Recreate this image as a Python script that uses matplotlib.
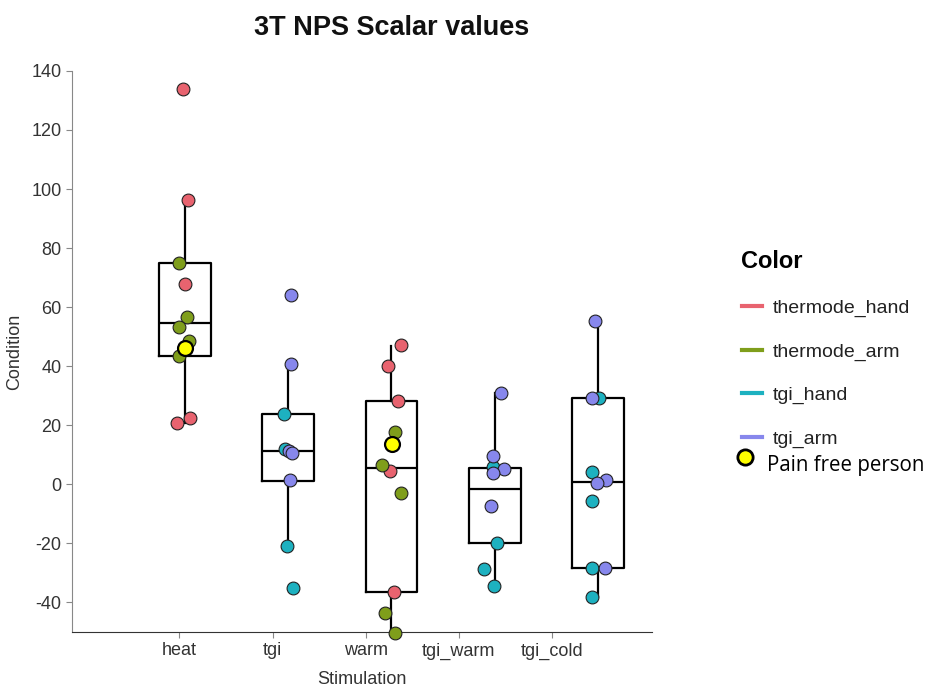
import numpy as np
import matplotlib.pyplot as plt
from matplotlib.lines import Line2D

plt.rcParams['font.family'] = 'Liberation Sans'
plt.rcParams['axes.unicode_minus'] = False

# categories and groups
stims = ['heat', 'tgi', 'warm', 'tgi_warm', 'tgi_cold']
groups = ['thermode_hand', 'thermode_arm', 'tgi_hand', 'tgi_arm']
colors = {'thermode_hand': '#E8636F', 'thermode_arm': '#7F9E1B',
          'tgi_hand': '#1DB1C0', 'tgi_arm': '#8787EC'}

# box summaries: whislo, q1, med, q3, whishi
whislo = [20.7, -21.0, -50.0, -34.5, -38.0]
q1 = [43.4, 1.0, -36.6, -19.7, -28.5]
med = [54.6, 11.2, 5.4, -1.7, 0.7]
q3 = [75.0, 23.7, 28.1, 5.4, 29.2]
whishi = [96.3, 40.7, 46.8, 30.8, 55.3]

# points: (stimulation index, group, value, jitter)
pt_stim = [0, 0, 0, 0, 0, 0, 0, 0, 0, 0,
           1, 1, 1, 1, 1, 1, 1, 1, 1,
           2, 2, 2, 2, 2, 2, 2, 2, 2, 2,
           3, 3, 3, 3, 3, 3, 3, 3, 3,
           4, 4, 4, 4, 4, 4, 4, 4, 4, 4]
pt_group = ['thermode_hand', 'thermode_hand', 'thermode_arm', 'thermode_hand', 'thermode_arm',
            'thermode_arm', 'thermode_arm', 'thermode_arm', 'thermode_hand', 'thermode_hand',
            'tgi_arm', 'tgi_arm', 'tgi_hand', 'tgi_hand', 'tgi_arm', 'tgi_arm', 'tgi_arm',
            'tgi_hand', 'tgi_hand',
            'thermode_hand', 'thermode_hand', 'thermode_hand', 'thermode_arm', 'thermode_arm',
            'thermode_hand', 'thermode_arm', 'thermode_hand', 'thermode_arm', 'thermode_arm',
            'tgi_arm', 'tgi_arm', 'tgi_hand', 'tgi_arm', 'tgi_arm', 'tgi_arm', 'tgi_hand',
            'tgi_hand', 'tgi_hand',
            'tgi_arm', 'tgi_hand', 'tgi_arm', 'tgi_hand', 'tgi_arm', 'tgi_arm', 'tgi_hand',
            'tgi_arm', 'tgi_hand', 'tgi_hand']
pt_value = [134.0, 96.3, 74.9, 68.0, 56.6, 53.2, 48.5, 43.4, 22.4, 20.7,
            64.1, 40.7, 23.7, 11.8, 11.2, 10.5, 1.4, -21.0, -35.0,
            47.1, 40.0, 28.1, 17.6, 6.4, 4.4, -3.0, -36.3, -43.7, -50.2,
            30.8, 9.5, 5.8, 5.1, 3.7, -7.5, -19.7, -28.8, -34.5,
            55.3, 29.2, 29.2, 4.1, 1.4, 0.4, -5.7, -28.5, -28.5, -38.0]
pt_jitter = [-0.02, 0.03, -0.05, 0.0, 0.02, -0.05, 0.04, -0.05, 0.05, -0.07,
             0.03, 0.03, -0.04, -0.03, 0.01, 0.04, 0.02, -0.01, 0.05,
             0.09, -0.03, 0.06, 0.03, -0.09, -0.01, 0.09, 0.02, -0.06, 0.03,
             0.06, -0.02, -0.02, 0.09, -0.02, -0.04, 0.02, -0.10, -0.01,
             -0.03, 0.01, -0.06, -0.06, 0.08, -0.01, -0.06, 0.07, -0.06, -0.06]

# pain free person
pf_stim = [0, 2]
pf_value = [46.1, 13.6]
pf_jitter = [0.0, 0.01]

fig = plt.figure(figsize=(9.31, 6.91), dpi=100)
ax = fig.add_axes([0.0773, 0.0854, 0.623, 0.812])

stats = [dict(whislo=a, q1=b, med=c, q3=d, whishi=e, fliers=[])
         for a, b, c, d, e in zip(whislo, q1, med, q3, whishi)]
ax.bxp(stats, positions=range(len(stims)), widths=0.5, showcaps=False,
       boxprops=dict(color='black', lw=1.6),
       medianprops=dict(color='black', lw=1.6),
       whiskerprops=dict(color='black', lw=1.6), manage_ticks=False)

pt_stim = np.array(pt_stim)
pt_value = np.array(pt_value)
pt_jitter = np.array(pt_jitter)
pt_group = np.array(pt_group)
for g in groups:
    m = pt_group == g
    ax.scatter(pt_stim[m] + pt_jitter[m], pt_value[m], s=85, color=colors[g],
               edgecolor='#222222', lw=0.8, zorder=3, clip_on=False)
ax.scatter(np.array(pf_stim) + np.array(pf_jitter), pf_value, s=115, color='#FFFF00',
           edgecolor='black', lw=1.6, zorder=4, clip_on=False)

ax.set_xlim(-1.09, 4.52)
ax.set_ylim(-50, 140)
ax.set_yticks(np.arange(-40, 141, 20))
ax.set_xticks(np.arange(len(stims)) * 0.9 - 0.05)
ax.set_xticklabels(stims)
ax.tick_params(labelsize=13, colors='#888888', labelcolor='#333333', length=4)
for s in ['top', 'right']:
    ax.spines[s].set_visible(False)
ax.spines['left'].set_color('#888888')
ax.spines['bottom'].set_color('#333333')
ax.set_xlabel('Stimulation', fontsize=13, color='#333333', labelpad=8)
ax.set_ylabel('Condition', fontsize=13, color='#333333', labelpad=6)

fig.text(392 / 931, 1 - 28 / 691, '3T NPS Scalar values', fontsize=19.5, fontweight='bold',
         ha='center', va='center', color='#111111')

handles = [Line2D([], [], color=colors[g], lw=3) for g in groups]
leg = fig.legend(handles, groups, loc='upper left', bbox_to_anchor=(724 / 931, 1 - 233 / 691),
                 frameon=False, fontsize=14, title='Color', handlelength=1.05,
                 labelspacing=1.33, handletextpad=0.57,
                 title_fontproperties=dict(weight='bold', size=17))
leg._legend_box.align = 'left'
for t in leg.get_texts():
    t.set_color('#222222')

fig.add_artist(Line2D([745 / 931], [1 - 457 / 691], marker='o', markersize=11,
                      markerfacecolor='#FFFF00', markeredgecolor='black', mew=2,
                      transform=fig.transFigure))
fig.text(767 / 931, 1 - 466 / 691, 'Pain free person', fontsize=14.8, family='Open Sans',
         ha='left', va='center', color='black')

fig.savefig('out.png', dpi=100)
